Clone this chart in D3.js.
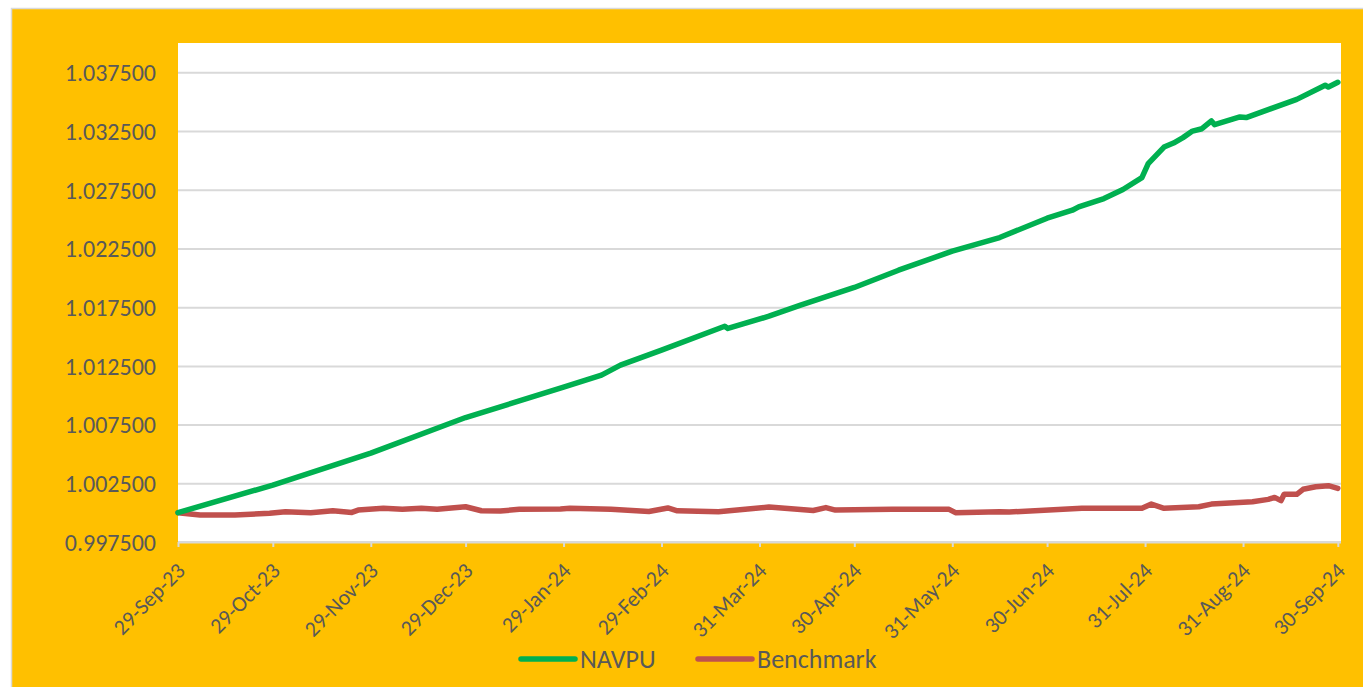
<!DOCTYPE html>
<html>
<head>
<meta charset="utf-8">
<script src="https://cdn.jsdelivr.net/npm/d3@7"></script>
<style>
  html, body { margin: 0; padding: 0; background: #ffffff; }
  svg { display: block; }
  text { font-family: Calibri, Carlito, "Noto Sans", sans-serif; fill: #595959; }
</style>
</head>
<body>
<svg id="chart" width="1363" height="687"></svg>
<script>
// ---- Data ----
const navDates = ["2023-09-29","2023-10-29","2023-11-29","2023-12-29","2024-01-29","2024-02-10","2024-02-16","2024-02-29","2024-03-20","2024-03-21","2024-04-03","2024-04-13","2024-04-30","2024-05-14","2024-05-31","2024-06-15","2024-06-30","2024-07-08","2024-07-10","2024-07-18","2024-07-24","2024-07-30","2024-08-01","2024-08-06","2024-08-09","2024-08-12","2024-08-15","2024-08-18","2024-08-21","2024-08-22","2024-08-30","2024-09-01","2024-09-17","2024-09-26","2024-09-27","2024-09-30"];
const navValues = [1.00000,1.00235,1.00507,1.00810,1.01069,1.01171,1.01256,1.01384,1.01588,1.01569,1.01673,1.01767,1.01918,1.02065,1.02227,1.02343,1.02508,1.02576,1.02604,1.02675,1.02752,1.02854,1.02973,1.03114,1.03148,1.03194,1.03250,1.03270,1.03336,1.03305,1.03370,1.03365,1.03520,1.03640,1.03625,1.03665];

const benchDates = ["2023-09-29","2023-10-06","2023-10-17","2023-10-28","2023-11-02","2023-11-10","2023-11-17","2023-11-23","2023-11-25","2023-12-03","2023-12-09","2023-12-15","2023-12-20","2023-12-29","2024-01-03","2024-01-09","2024-01-15","2024-01-28","2024-01-31","2024-02-13","2024-02-25","2024-03-02","2024-03-05","2024-03-18","2024-04-03","2024-04-17","2024-04-21","2024-04-24","2024-05-12","2024-05-30","2024-06-01","2024-06-15","2024-06-18","2024-07-11","2024-07-30","2024-08-02","2024-08-06","2024-08-17","2024-08-21","2024-09-03","2024-09-08","2024-09-10","2024-09-12","2024-09-13","2024-09-17","2024-09-19","2024-09-23","2024-09-27","2024-09-30"];
const benchValues = [1.00000,0.99980,0.99980,0.99994,1.00008,1.00000,1.00016,1.00002,1.00022,1.00037,1.00028,1.00037,1.00028,1.00050,1.00016,1.00014,1.00028,1.00031,1.00037,1.00028,1.00010,1.00040,1.00016,1.00008,1.00048,1.00018,1.00043,1.00022,1.00028,1.00028,1.00000,1.00008,1.00005,1.00037,1.00037,1.00073,1.00037,1.00050,1.00073,1.00093,1.00113,1.00130,1.00102,1.00156,1.00156,1.00199,1.00221,1.00230,1.00207];

const xTickDates = ["2023-09-29","2023-10-29","2023-11-29","2023-12-29","2024-01-29","2024-02-29","2024-03-31","2024-04-30","2024-05-31","2024-06-30","2024-07-31","2024-08-31","2024-09-30"];
const yTicks = [0.9975,1.0025,1.0075,1.0125,1.0175,1.0225,1.0275,1.0325,1.0375];
const seriesNames = ["NAVPU","Benchmark"];
const seriesColors = ["#00B050","#C0504D"];

// ---- Drawing ----
const parse = d3.timeParse("%Y-%m-%d");
const fmtTick = d3.timeFormat("%d-%b-%y");
const svg = d3.select("#chart");

// chart area background
svg.append("rect").attr("x", 11.5).attr("y", 8.5).attr("width", 1363).attr("height", 700)
  .attr("fill", "#FFC000").attr("stroke", "#D9D9D9").attr("stroke-width", 1.5);

const plot = {left: 178, right: 1341, top: 43, bottom: 542};
svg.append("rect").attr("x", plot.left).attr("y", plot.top)
  .attr("width", plot.right - plot.left).attr("height", plot.bottom - plot.top).attr("fill", "#ffffff");

const x = d3.scaleTime()
  .domain([parse("2023-09-29"), parse("2024-10-01")])
  .range([plot.left, plot.right]);
const y = d3.scaleLinear().domain([0.9975, 1.04]).range([plot.bottom, plot.top]);

// gridlines + y labels
const yAxis = d3.axisLeft(y).tickValues(yTicks).tickSize(-(plot.right - plot.left)).tickPadding(22)
  .tickFormat(d3.format(".6f"));
const gy = svg.append("g").attr("transform", `translate(${plot.left},0)`).call(yAxis);
gy.select(".domain").remove();
gy.selectAll(".tick line").attr("stroke", "#D9D9D9").attr("stroke-width", 2);
gy.selectAll(".tick text").attr("font-size", 24).attr("fill", "#595959").attr("dy", "0.35em");

// x axis
const xAxis = d3.axisBottom(x).tickValues(xTickDates.map(parse)).tickSize(5).tickFormat(fmtTick);
const gx = svg.append("g").attr("transform", `translate(0,${plot.bottom})`).call(xAxis);
gx.select(".domain").attr("stroke", "#D9D9D9").attr("stroke-width", 2).attr("d", `M${plot.left},0H${plot.right}`);
gx.selectAll(".tick line").attr("stroke", "#D9D9D9").attr("stroke-width", 2);
gx.selectAll(".tick text")
  .attr("font-size", 22).attr("fill", "#595959")
  .attr("text-anchor", "end")
  .attr("transform", "translate(8,30) rotate(-45)")
  .attr("x", 0).attr("y", 0).attr("dy", 0);

// lines
const line = d3.line().x(d => x(d[0])).y(d => y(d[1]));
const benchData = benchDates.map((d, i) => [parse(d), benchValues[i]]);
const navData = navDates.map((d, i) => [parse(d), navValues[i]]);
[[benchData, seriesColors[1]], [navData, seriesColors[0]]].forEach(([data, color]) => {
  svg.append("path").datum(data).attr("d", line).attr("fill", "none")
    .attr("stroke", color).attr("stroke-width", 5.5).attr("stroke-linejoin", "round").attr("stroke-linecap", "round");
});

// legend
const legendItems = [{x: 521, name: seriesNames[0], color: seriesColors[0]}, {x: 698, name: seriesNames[1], color: seriesColors[1]}];
legendItems.forEach(it => {
  svg.append("line").attr("x1", it.x).attr("x2", it.x + 54).attr("y1", 659).attr("y2", 659)
    .attr("stroke", it.color).attr("stroke-width", 5.5).attr("stroke-linecap", "round");
  svg.append("text").attr("x", it.x + 59).attr("y", 659).attr("dy", "0.35em")
    .attr("font-size", 26).attr("fill", "#595959").text(it.name);
});
</script>
</body>
</html>
